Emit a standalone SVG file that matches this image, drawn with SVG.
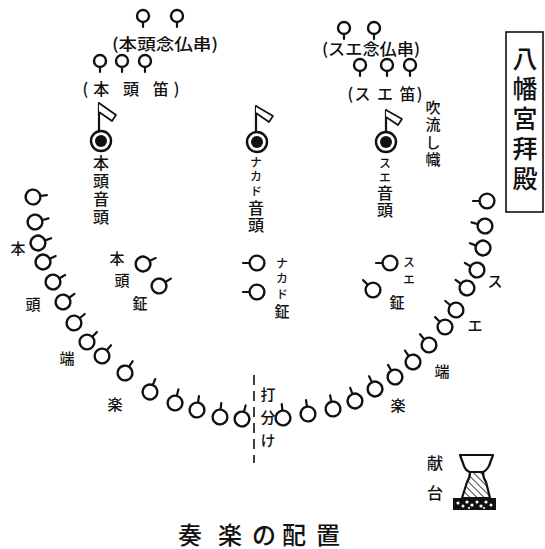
<svg xmlns="http://www.w3.org/2000/svg" xmlns:xlink="http://www.w3.org/1999/xlink" width="545" height="549" viewBox="0 0 545 549">
  <style>
    .ink { stroke: #111; fill: none; stroke-width: 2.2; stroke-linecap: round; }
    .ring { stroke: #111; fill: #fff; stroke-width: 2.4; }
    .t { font-family: "Noto Sans CJK JP", "Noto Sans", sans-serif; fill: #111; text-anchor: middle; dominant-baseline: central; font-weight: 500; }
    .v { font-family: "Noto Sans CJK JP", "Noto Sans", sans-serif; fill: #111; writing-mode: vertical-rl; text-anchor: start; dominant-baseline: central; font-weight: 500; }
    .s15 { font-size: 15px; }
    .s16 { font-size: 16px; }
    .s12 { font-size: 12px; }
    .title { font-size: 24px; }
  </style>
  <defs>
    <!-- bell / player mark: ring with a short handle along +x -->
    <g id="bell">
      <line class="ink" x1="7" y1="0" x2="14" y2="0"/>
      <circle class="ring" r="7.4"/>
    </g>
    <!-- flute / small pipe mark: ring with stem downward -->
    <g id="pipe">
      <line class="ink" x1="0" y1="5" x2="0" y2="11" stroke-width="2"/>
      <circle class="ring" r="6"/>
    </g>
    <!-- lead singer mark: double ring -->
    <g id="lead">
      <circle class="ring" r="10" stroke-width="2.6"/>
      <circle r="6" fill="#111"/>
    </g>
    <pattern id="hatch" width="5" height="5" patternUnits="userSpaceOnUse" patternTransform="rotate(-45)">
      <line x1="0" y1="0" x2="0" y2="5" stroke="#111" stroke-width="1.6"/>
    </pattern>
  </defs>

  <rect width="545" height="549" fill="#fff"/>

  <!-- title panel -->
  <g id="hall">
    <rect x="506" y="32" width="37" height="180" fill="none" stroke="#111" stroke-width="1.6"/>
    <text class="v" x="525" y="45.5" font-size="25" letter-spacing="5.2">八幡宮拜殿</text>
  </g>

  <!-- hontou side pipes -->
  <g id="hontou-nenbutsu">
    <use xlink:href="#pipe" transform="translate(143,16)"/>
    <use xlink:href="#pipe" transform="translate(177,16)"/>
    <text class="t s16" x="165" y="43" textLength="106" lengthAdjust="spacingAndGlyphs">(本頭念仏串)</text>
  </g>
  <g id="hontou-fue">
    <use xlink:href="#pipe" transform="translate(100,61)"/>
    <use xlink:href="#pipe" transform="translate(122,61)"/>
    <use xlink:href="#pipe" transform="translate(145,61)"/>
    <text class="t s16" x="131" y="88" textLength="97" lengthAdjust="spacing">(本 頭 笛)</text>
  </g>

  <!-- sue side pipes -->
  <g id="sue-nenbutsu">
    <use xlink:href="#pipe" transform="translate(344,28)"/>
    <use xlink:href="#pipe" transform="translate(374,28)"/>
    <text class="t s16" x="371" y="48" textLength="98" lengthAdjust="spacingAndGlyphs">(スエ念仏串)</text>
  </g>
  <g id="sue-fue">
    <use xlink:href="#pipe" transform="translate(360,65)"/>
    <use xlink:href="#pipe" transform="translate(387,65)"/>
    <use xlink:href="#pipe" transform="translate(410,65)"/>
    <text class="t s16" x="385" y="93" textLength="75" lengthAdjust="spacing">(ス エ 笛)</text>
  </g>

  <!-- lead singers with banners -->
  <g id="hontou-ondo">
    <line class="ink" x1="99" y1="103" x2="99" y2="131" stroke-width="1.8"/>
    <path d="M99,103 L116,115 L112,121 L99,112" fill="#fff" stroke="#111" stroke-width="1.7" stroke-linejoin="round"/>
    <use xlink:href="#lead" transform="translate(101,141)"/>
    <text class="v s16" x="101" y="155" letter-spacing="2">本頭音頭</text>
  </g>
  <g id="nakado-ondo">
    <line class="ink" x1="256" y1="106" x2="256" y2="132" stroke-width="1.8"/>
    <path d="M256,106 L273,116 L269,122 L256,113" fill="#fff" stroke="#111" stroke-width="1.7" stroke-linejoin="round"/>
    <use xlink:href="#lead" transform="translate(257,142)"/>
    <text class="v" x="256" y="156"><tspan font-size="12" letter-spacing="2.5">ナカド</tspan><tspan font-size="16" letter-spacing="1">音頭</tspan></text>
  </g>
  <g id="sue-ondo">
    <line class="ink" x1="386" y1="110" x2="386" y2="132" stroke-width="1.8"/>
    <path d="M386,110 L402,119 L398,125 L386,117" fill="#fff" stroke="#111" stroke-width="1.7" stroke-linejoin="round"/>
    <use xlink:href="#lead" transform="translate(386,142)"/>
    <text class="v" x="385" y="157"><tspan font-size="12" letter-spacing="2">スエ</tspan><tspan font-size="16" letter-spacing="1">音頭</tspan></text>
  </g>
  <g id="fukinagashi">
    <text class="v s15" x="433" y="99.5" letter-spacing="2.6">吹流し幟</text>
  </g>

  <!-- gongs -->
  <g id="hontou-kane">
    <use xlink:href="#bell" transform="translate(143,264) rotate(-25)"/>
    <use xlink:href="#bell" transform="translate(159,286) rotate(-32)"/>
    <text class="t s15" x="117" y="257">本</text>
    <text class="t s15" x="122" y="279">頭</text>
    <text class="t s15" x="140" y="302">鉦</text>
  </g>
  <g id="nakado-kane">
    <use xlink:href="#bell" transform="translate(257,263) rotate(180)"/>
    <use xlink:href="#bell" transform="translate(257,292) rotate(180)"/>
    <text class="v" x="282" y="257"><tspan font-size="12" letter-spacing="3.5">ナカド</tspan><tspan font-size="15">鉦</tspan></text>
  </g>
  <g id="sue-kane">
    <use xlink:href="#bell" transform="translate(390,263) rotate(180)"/>
    <use xlink:href="#bell" transform="translate(373,290) rotate(225)"/>
    <text class="v s12" x="409" y="256" letter-spacing="5">スエ</text>
    <text class="t s15" x="397" y="301">鉦</text>
  </g>

  <!-- hontou-hata drum line -->
  <g id="hontou-hata">
    <use xlink:href="#bell" transform="translate(33,197) rotate(-8)"/>
    <use xlink:href="#bell" transform="translate(35,222) rotate(-15)"/>
    <use xlink:href="#bell" transform="translate(38,243) rotate(-20)"/>
    <use xlink:href="#bell" transform="translate(43,262) rotate(-25)"/>
    <use xlink:href="#bell" transform="translate(53,282) rotate(-30)"/>
    <use xlink:href="#bell" transform="translate(63,302) rotate(-35)"/>
    <use xlink:href="#bell" transform="translate(74,323) rotate(-40)"/>
    <use xlink:href="#bell" transform="translate(87,342) rotate(-45)"/>
    <use xlink:href="#bell" transform="translate(102,356) rotate(-50)"/>
    <use xlink:href="#bell" transform="translate(125,373) rotate(-57)"/>
    <use xlink:href="#bell" transform="translate(150,392) rotate(-68)"/>
    <use xlink:href="#bell" transform="translate(175,403) rotate(-76)"/>
    <use xlink:href="#bell" transform="translate(197,410) rotate(-82)"/>
    <use xlink:href="#bell" transform="translate(220,417) rotate(-85)"/>
    <use xlink:href="#bell" transform="translate(242,419) rotate(-75)"/>
    <text class="t s15" x="18" y="247">本</text>
    <text class="t s15" x="33" y="303">頭</text>
    <text class="t s15" x="67" y="357">端</text>
    <text class="t s15" x="115" y="403">楽</text>
  </g>

  <!-- sue-hata drum line -->
  <g id="sue-hata">
    <use xlink:href="#bell" transform="translate(487,201) rotate(180)"/>
    <use xlink:href="#bell" transform="translate(485,226) rotate(195)"/>
    <use xlink:href="#bell" transform="translate(483,248) rotate(200)"/>
    <use xlink:href="#bell" transform="translate(477,270) rotate(210)"/>
    <use xlink:href="#bell" transform="translate(467,288) rotate(215)"/>
    <use xlink:href="#bell" transform="translate(456,310) rotate(220)"/>
    <use xlink:href="#bell" transform="translate(445,327) rotate(225)"/>
    <use xlink:href="#bell" transform="translate(429,345) rotate(230)"/>
    <use xlink:href="#bell" transform="translate(413,362) rotate(235)"/>
    <use xlink:href="#bell" transform="translate(395,377) rotate(240)"/>
    <use xlink:href="#bell" transform="translate(375,389) rotate(245)"/>
    <use xlink:href="#bell" transform="translate(355,401) rotate(250)"/>
    <use xlink:href="#bell" transform="translate(333,409) rotate(258)"/>
    <use xlink:href="#bell" transform="translate(308,414) rotate(262)"/>
    <use xlink:href="#bell" transform="translate(283,418) rotate(265)"/>
    <text class="t s15" x="495" y="280">ス</text>
    <text class="t s15" x="475" y="324">エ</text>
    <text class="t s15" x="442" y="370">端</text>
    <text class="t s15" x="398" y="404">楽</text>
  </g>

  <!-- dividing line between the two sides -->
  <g id="connectors">
    <line x1="254" y1="375" x2="254" y2="463" stroke="#111" stroke-width="1.6" stroke-dasharray="10,6"/>
  </g>
  <g id="uchiwake">
    <text class="v s15" x="268" y="386.5" letter-spacing="8">打分け</text>
  </g>

  <!-- offering table -->
  <g id="kendai">
    <text class="t s16" x="435" y="462">献</text>
    <text class="t s16" x="435" y="492">台</text>
    <path d="M460,455 L493,455 L489,466 Q486,471 483,472 L470,472 Q466,471 464,466 Z" fill="#fff" stroke="#111" stroke-width="2.2" stroke-linejoin="round"/>
    <path d="M470,472 Q470,478 467,482 L462,498 L490,498 L486,482 Q483,478 483,472" fill="url(#hatch)" stroke="#111" stroke-width="2.2" stroke-linejoin="round"/>
    <rect x="453" y="498" width="43" height="12" fill="#111"/>
    <g fill="#fff">
      <circle cx="458" cy="503" r="1.6"/>
      <circle cx="463" cy="506" r="1.5"/>
      <circle cx="467" cy="502" r="1.6"/>
      <circle cx="472" cy="505" r="1.6"/>
      <circle cx="477" cy="502" r="1.5"/>
      <circle cx="481" cy="506" r="1.6"/>
      <circle cx="486" cy="502" r="1.6"/>
      <circle cx="491" cy="505" r="1.5"/>
      <circle cx="469" cy="508" r="1.1"/>
      <circle cx="484" cy="508" r="1.1"/>
    </g>
  </g>

  <!-- caption -->
  <g id="caption">
    <text class="t title" x="190" y="533">奏</text>
    <text class="t title" x="230" y="533">楽</text>
    <text class="t title" x="264" y="533">の</text>
    <text class="t title" x="294" y="533">配</text>
    <text class="t title" x="328" y="533">置</text>
  </g>
</svg>
